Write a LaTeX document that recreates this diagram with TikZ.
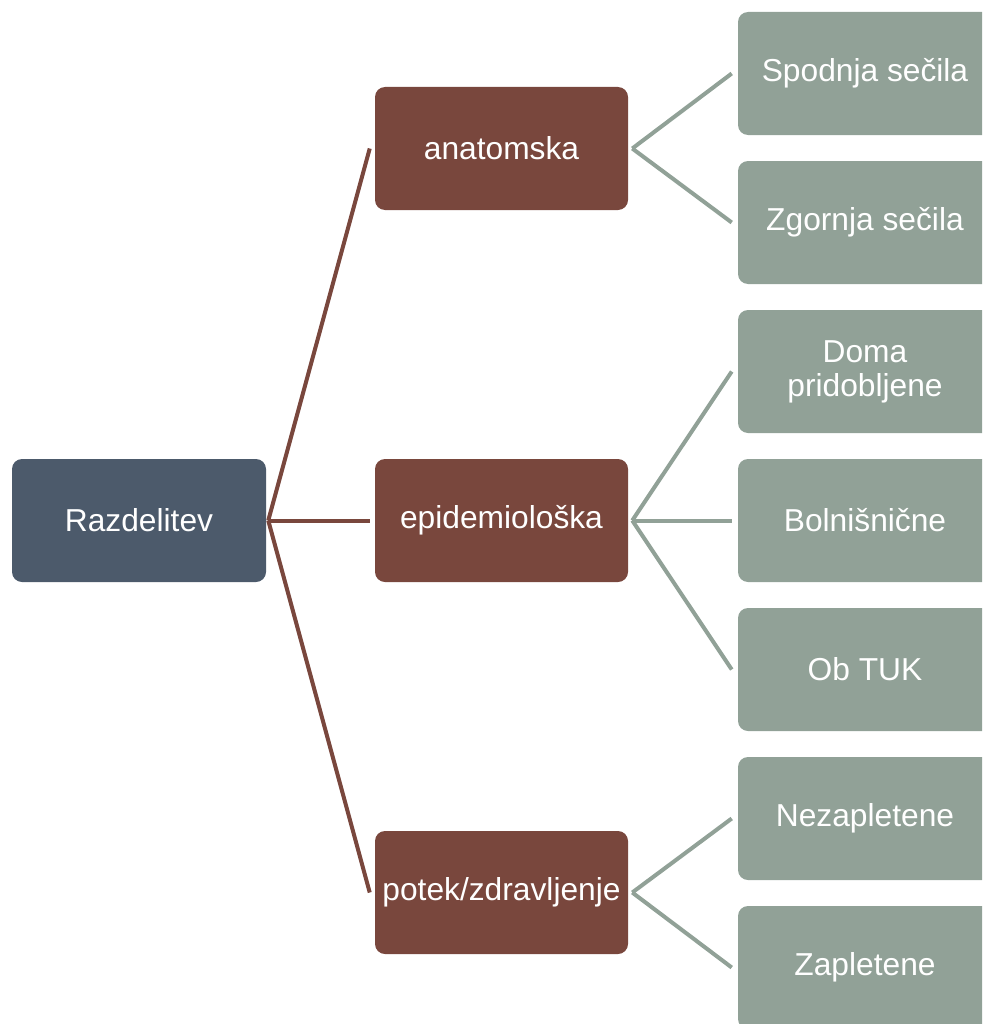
\documentclass[tikz,border=0pt]{standalone}
\usepackage{fontspec}
\setmainfont{Liberation Sans}
\definecolor{rootc}{HTML}{4C5A6B}
\definecolor{midc}{HTML}{79473D}
\definecolor{leafc}{HTML}{91A197}
\begin{document}
\begin{tikzpicture}[x=0.75pt,y=-0.75pt,
  box/.style={rounded corners=7.5pt,minimum height=92.25pt,text=white,align=center,inner sep=0pt,
    font=\fontsize{23.8pt}{25.5pt}\selectfont},
  rootbox/.style={box,fill=rootc,minimum width=190.5pt},
  midbox/.style={box,fill=midc,minimum width=189.75pt},
  leafbox/.style={box,fill=leafc,minimum width=190.5pt},
  midline/.style={draw=midc,line width=3pt},
  leafline/.style={draw=leafc,line width=3pt}]
\useasboundingbox (0,0) rectangle (982,1024);
\clip (0,0) rectangle (982,1024);
\node[rootbox] (root) at (139,520.5) {Razdelitev};
\node[midbox] (m1) at (501.5,148.5) {anatomska};
\node[midbox] (m2) at (501.5,520.5) {epidemiološka};
\node[midbox] (m3) at (501.5,892.5) {potek/zdravljenje};
\node[leafbox] (l1) at (865,73.5) {Spodnja sečila};
\node[leafbox] (l2) at (865,222.5) {Zgornja sečila};
\node[leafbox] (l3) at (865,371.5) {Doma\\pridobljene};
\node[leafbox] (l4) at (865,520.5) {Bolnišnične};
\node[leafbox] (l5) at (865,669.5) {Ob TUK};
\node[leafbox] (l6) at (865,818.5) {Nezapletene};
\node[leafbox] (l7) at (865,967.5) {Zapletene};
\foreach \m in {m1,m2,m3}
  \draw[midline] ([xshift=1.5pt]root.east) -- ([xshift=-3.75pt]\m.west);
\foreach \l in {l1,l2}
  \draw[leafline] ([xshift=3pt]m1.east) -- ([xshift=-4.5pt]\l.west);
\foreach \l in {l3,l4,l5}
  \draw[leafline] ([xshift=3pt]m2.east) -- ([xshift=-4.5pt]\l.west);
\foreach \l in {l6,l7}
  \draw[leafline] ([xshift=3pt]m3.east) -- ([xshift=-4.5pt]\l.west);
\end{tikzpicture}
\end{document}
